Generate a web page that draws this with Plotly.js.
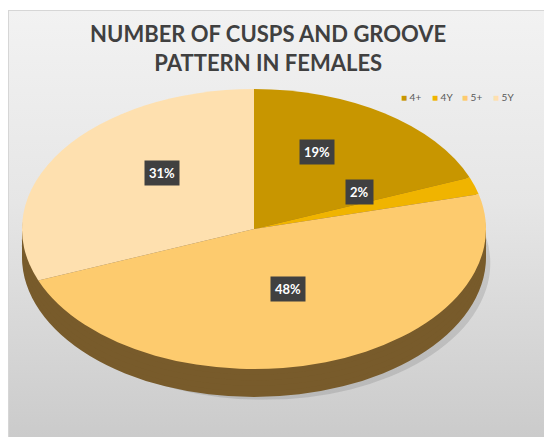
<!DOCTYPE html>
<html>
<head>
<meta charset="utf-8">
<script src="https://cdn.plot.ly/plotly-3.0.1.min.js"></script>
<style>
  html, body { margin: 0; padding: 0; background: #ffffff; }
  #wrap { position: relative; width: 544px; height: 437px; overflow: hidden; }
  #frame { position: absolute; left: 8px; top: 10px; width: 536px; height: 427px;
           box-sizing: border-box; border-top: 1px solid #d6d6d6; border-left: 1px solid #d6d6d6;
           background: linear-gradient(to bottom, #f2f2f2 0%, #e6e6e6 45%, #cbcbcb 100%); }
  #pie, #labels { position: absolute; left: 0; }
  #labels { pointer-events: none; }
</style>
</head>
<body>
<div id="wrap">
  <div id="frame"></div>
  <div id="pie"></div>
  <div id="labels"></div>
</div>
<script>
// ---- data ----
const categories = ['4+', '4Y', '5+', '5Y'];
const percentages = [19, 2, 48, 31];
const sliceColors = ['#C89600', '#F0B400', '#FDCB6E', '#FEE0AF'];
const titleText = 'NUMBER OF CUSPS AND GROOVE<br>PATTERN IN FEMALES';

// ---- geometry (layout only) ----
const W = 544, HT = 437;
const CX = 254, CY = 229, RX = 232, RY = 140, DEPTH = 28;
const S = RY / RX;
const D = DEPTH / S;                 // depth before vertical squash
const PH = Math.ceil(2 * RX + D + 4); // pie div height
const font = 'Lato, "Open Sans", sans-serif';
const cfg = { staticPlot: true, displayModeBar: false };

// pie layer (3D-ish: squashed circle with a brown side)
const pd = document.getElementById('pie');
pd.style.top = (CY - RX) + 'px';
pd.style.width = W + 'px';
pd.style.height = PH + 'px';
pd.style.transformOrigin = CX + 'px ' + RX + 'px';
pd.style.transform = 'scaleY(' + S + ')';

const xd = [(CX - RX) / W, (CX + RX) / W];
function yd(shift) { return [(PH - 2 * RX - shift) / PH, (PH - shift) / PH]; }
const traces = [];
// soft shadow under the disc
traces.push({
  type: 'pie', values: [1], labels: ['shadow'], sort: false, opacity: 0.18,
  marker: { colors: ['#555555'], line: { width: 0 } },
  textinfo: 'none', hoverinfo: 'skip', showlegend: false,
  domain: { x: [(CX - RX + 6) / W, (CX + RX + 14) / W], y: yd(D + 16) }
});
[1, 0.8, 0.6, 0.4, 0.2].forEach(k => {
  traces.push({
    type: 'pie', values: [1], labels: ['side'], sort: false,
    marker: { colors: ['#785B2B'], line: { width: 0 } },
    textinfo: 'none', hoverinfo: 'skip', showlegend: false,
    domain: { x: xd, y: yd(k * D) }
  });
});
traces.push({
  type: 'pie', labels: categories, values: percentages, sort: false,
  direction: 'clockwise', rotation: 0,
  marker: { colors: sliceColors, line: { width: 0 } },
  textinfo: 'none', hoverinfo: 'skip', showlegend: false,
  domain: { x: xd, y: yd(0) }
});
Plotly.newPlot('pie', traces, {
  width: W, height: PH, margin: { l: 0, r: 0, t: 0, b: 0 },
  paper_bgcolor: 'rgba(0,0,0,0)', plot_bgcolor: 'rgba(0,0,0,0)', showlegend: false
}, cfg);

// label layer: data labels placed at slice mid-angles on the squashed pie
const total = percentages.reduce((a, b) => a + b, 0);
let cum = 0;
const ann = percentages.map((v, i) => {
  const mid = (cum + v / 2) / total * 2 * Math.PI;
  cum += v;
  const px = CX + RX * 0.48 * Math.sin(mid);
  const py = CY - RY * 0.55 * Math.cos(mid) - 13;
  return {
    xref: 'paper', yref: 'paper', x: px / W, y: 1 - py / HT,
    xanchor: 'center', yanchor: 'middle',
    text: '<b>' + v + '%</b>', showarrow: false,
    font: { family: font, size: 13, color: '#ffffff' },
    bgcolor: '#404040', borderpad: 4
  };
});
// legend entries (coloured square + category name)
categories.forEach((c, i) => {
  ann.push({
    xref: 'paper', yref: 'paper', x: (399 + i * 30.5) / W, y: 1 - 97 / HT,
    xanchor: 'left', yanchor: 'middle', showarrow: false,
    text: '<span style="color:' + sliceColors[i] + '">■</span> ' + c,
    font: { family: font, size: 10, color: '#595959' }
  });
});
const ld = document.getElementById('labels');
ld.style.top = '0px';
Plotly.newPlot('labels', [], {
  width: W, height: HT, margin: { l: 0, r: 0, t: 0, b: 0 },
  paper_bgcolor: 'rgba(0,0,0,0)', plot_bgcolor: 'rgba(0,0,0,0)',
  xaxis: { visible: false }, yaxis: { visible: false },
  title: { text: titleText, x: 0.493, xanchor: 'center', y: 1 - 42 / HT, yanchor: 'middle',
           font: { family: font, size: 22, color: '#404040', weight: 'bold' } },
  annotations: ann
}, cfg);
</script>
</body>
</html>
